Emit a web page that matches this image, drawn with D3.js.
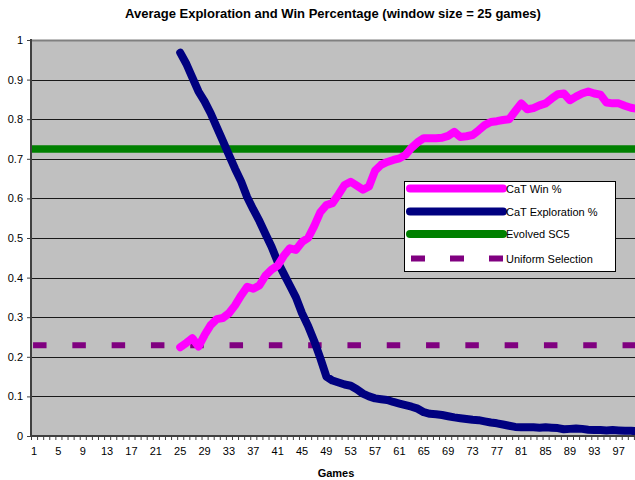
<!DOCTYPE html>
<html><head><meta charset="utf-8">
<script src="https://cdn.jsdelivr.net/npm/d3@7"></script>
<style>body{margin:0;background:#fff}text{font-family:Arial,"Liberation Sans",sans-serif}</style>
</head><body><svg id="c" width="635" height="480"></svg>
<script>
const games = d3.range(1, 101);
const seriesGames = d3.range(25, 101);
const winPct = [0.224,0.235,0.247,0.226,0.255,0.28,0.295,0.298,0.31,0.33,0.355,0.377,0.372,0.38,0.405,0.42,0.43,0.455,0.474,0.47,0.49,0.5,0.53,0.565,0.583,0.588,0.61,0.634,0.642,0.632,0.622,0.63,0.67,0.685,0.692,0.697,0.701,0.71,0.728,0.742,0.752,0.752,0.752,0.753,0.758,0.768,0.755,0.757,0.76,0.772,0.785,0.793,0.795,0.798,0.8,0.82,0.84,0.825,0.828,0.835,0.84,0.852,0.863,0.865,0.848,0.857,0.865,0.87,0.865,0.862,0.842,0.84,0.84,0.834,0.829,0.826];
const explorePct = [0.968,0.94,0.905,0.87,0.845,0.815,0.78,0.745,0.71,0.675,0.643,0.603,0.572,0.543,0.51,0.478,0.44,0.41,0.38,0.35,0.31,0.278,0.24,0.197,0.15,0.14,0.135,0.13,0.127,0.118,0.107,0.1,0.095,0.093,0.091,0.086,0.082,0.078,0.074,0.069,0.06,0.056,0.055,0.053,0.05,0.047,0.045,0.043,0.041,0.04,0.037,0.034,0.032,0.029,0.026,0.023,0.022,0.022,0.022,0.021,0.022,0.021,0.02,0.017,0.018,0.019,0.018,0.016,0.015,0.015,0.014,0.015,0.014,0.013,0.013,0.012];
const evolvedSC5 = 0.725;
const uniformSel = 0.229;
const yTicks = [0,0.1,0.2,0.3,0.4,0.5,0.6,0.7,0.8,0.9,1];
const yTickLabels = ["0","0.1","0.2","0.3","0.4","0.5","0.6","0.7","0.8","0.9","1"];
const xTickLabels = d3.range(1, 100, 4);
const seriesNames = ["CaT Win %","CaT Exploration %","Evolved SC5","Uniform Selection"];
const seriesColors = ["#ff00ff","#000080","#008000","#800080"];

const svg = d3.select("#c");
const L = 31, R = 640, T = 40, B = 436;
const x = d3.scaleBand().domain(games).range([L, R]).padding(0);
const xb = d3.scaleLinear().domain([0, 100]).range([L, R]);
const y = d3.scaleLinear().domain([0, 1]).range([B, T]);
const cx = g => x(g) + x.bandwidth() / 2;

svg.append("rect").attr("x", 0).attr("y", 0).attr("width", 635).attr("height", 480).attr("fill", "#fff");
svg.append("rect").attr("x", L).attr("y", T).attr("width", R - L).attr("height", B - T).attr("fill", "#c0c0c0");

// gridlines
svg.append("g").selectAll("line").data(yTicks.slice(1)).join("line")
  .attr("x1", L).attr("x2", R).attr("y1", d => Math.round(y(d)) + 0.5).attr("y2", d => Math.round(y(d)) + 0.5)
  .attr("stroke", d => d === 1 ? "#808080" : "#1a1a1a").attr("stroke-width", d => d === 1 ? 2 : 1);

// title
svg.append("text").attr("x", 333).attr("y", 18).attr("text-anchor", "middle")
  .attr("font-size", 13).attr("font-weight", "bold")
  .text("Average Exploration and Win Percentage (window size = 25 games)");

const clip = svg.append("clipPath").attr("id", "pc").append("rect")
  .attr("x", L).attr("y", T - 10).attr("width", R - L).attr("height", B - T + 10);
const plot = svg.append("g").attr("clip-path", "url(#pc)");

// horizontal reference lines
plot.append("line").attr("x1", L).attr("x2", R).attr("y1", y(evolvedSC5)).attr("y2", y(evolvedSC5))
  .attr("stroke", seriesColors[2]).attr("stroke-width", 7.5);
plot.append("line").attr("x1", cx(1) - 1).attr("x2", R).attr("y1", y(uniformSel)).attr("y2", y(uniformSel))
  .attr("stroke", seriesColors[3]).attr("stroke-width", 6).attr("stroke-dasharray", "13.5 25.8");

const line = d3.line().x((d, i) => cx(seriesGames[i])).y(d => y(d)).curve(d3.curveLinear);
plot.append("path").attr("d", line(explorePct)).attr("fill", "none").attr("stroke", seriesColors[1])
  .attr("stroke-width", 8).attr("stroke-linecap", "round").attr("stroke-linejoin", "round");
plot.append("path").attr("d", line(winPct)).attr("fill", "none").attr("stroke", seriesColors[0])
  .attr("stroke-width", 8).attr("stroke-linecap", "round").attr("stroke-linejoin", "round");

// y axis
const yAx = svg.append("g").attr("transform", `translate(${L},0)`)
  .call(d3.axisLeft(y).tickValues(yTicks).tickSize(4).tickPadding(4).tickFormat((d, i) => yTickLabels[i]));
yAx.select(".domain").attr("stroke", "#404040").attr("stroke-width", 2).attr("d", `M0,${T - 1}V${B}`);
yAx.selectAll(".tick line").attr("stroke", "#404040");
yAx.selectAll("text").attr("font-size", 11).attr("fill", "#000").attr("font-family", "Arial, 'Liberation Sans', sans-serif");

// x axis ticks at category boundaries
const xAx = svg.append("g").attr("transform", `translate(0,${B})`)
  .call(d3.axisBottom(xb).tickValues(d3.range(0, 101)).tickSize(4).tickFormat(""));
xAx.select(".domain").attr("stroke", "#404040").attr("stroke-width", 2).attr("d", `M${L - 1},0H${R}`);
xAx.selectAll(".tick line").attr("stroke", "#404040");
const xLab = svg.append("g").attr("transform", `translate(0,${B})`)
  .call(d3.axisBottom(x).tickValues(xTickLabels).tickSize(0).tickPadding(11));
xLab.select(".domain").remove();
xLab.selectAll("text").attr("font-size", 11).attr("fill", "#000").attr("font-family", "Arial, 'Liberation Sans', sans-serif");

svg.append("text").attr("x", 336).attr("y", 477).attr("text-anchor", "middle")
  .attr("font-size", 11).attr("font-weight", "bold").text("Games");

// legend
const lg = svg.append("g");
lg.append("rect").attr("x", 404.5).attr("y", 181.5).attr("width", 211).attr("height", 90)
  .attr("fill", "#fff").attr("stroke", "#000").attr("stroke-width", 1);
const rowsY = [188.5, 211.5, 234, 258.5];
seriesNames.forEach((n, i) => {
  const ln = lg.append("line").attr("x1", i === 3 ? 411 : 410).attr("x2", i === 3 ? 503 : 503)
    .attr("y1", rowsY[i]).attr("y2", rowsY[i]).attr("stroke", seriesColors[i]);
  if (i === 3) ln.attr("stroke-width", 6).attr("stroke-dasharray", "14 25");
  else ln.attr("stroke-width", 8).attr("stroke-linecap", "round");
  lg.append("text").attr("x", 506).attr("y", rowsY[i] + 4).attr("font-size", 11).text(n);
});
</script></body></html>
